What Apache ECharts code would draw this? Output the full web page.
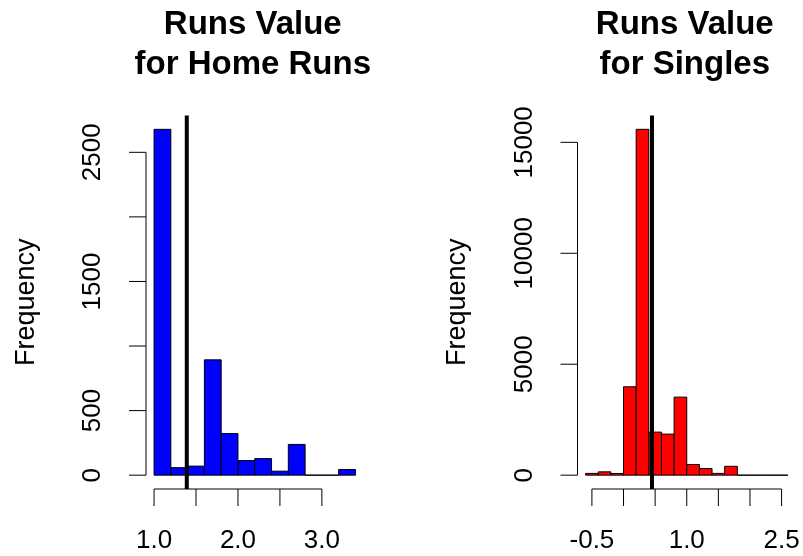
<!DOCTYPE html>
<html>
<head>
<meta charset="utf-8">
<script src="https://cdn.jsdelivr.net/npm/echarts@6/dist/echarts.min.js"></script>
<style>
  html, body { margin: 0; padding: 0; background: #fff; }
  #chart { width: 803px; height: 556px; }
</style>
</head>
<body>
<div id="chart"></div>
<script>
// Histogram bins (breaks) and counts
const hrBreaks = [1.0, 1.2, 1.4, 1.6, 1.8, 2.0, 2.2, 2.4, 2.6, 2.8, 3.0, 3.2, 3.4];
const hrCounts = [2678, 58, 70, 893, 322, 113, 128, 31, 238, 0, 0, 44];
const hrMean = 1.39;

const singleBreaks = [-0.6, -0.4, -0.2, 0.0, 0.2, 0.4, 0.6, 0.8, 1.0, 1.2, 1.4, 1.6, 1.8, 2.0, 2.2, 2.4, 2.6];
const singleCounts = [80, 150, 75, 3983, 15586, 1940, 1850, 3517, 481, 300, 80, 400, 0, 0, 0, 0];
const singleMean = 0.45;

// Axis ticks and labels
const hrXTicks = [1.0, 1.5, 2.0, 2.5, 3.0];
const hrXLabels = [1.0, 2.0, 3.0];
const hrYTicks = [0, 500, 1000, 1500, 2000, 2500];
const hrYLabels = [0, 500, 1500, 2500];

const singleXTicks = [-0.5, 0.0, 0.5, 1.0, 1.5, 2.0, 2.5];
const singleXLabels = [-0.5, 1.0, 2.5];
const singleYTicks = [0, 5000, 10000, 15000];
const singleYLabels = [0, 5000, 10000, 15000];

const titles = ['Runs Value\nfor Home Runs', 'Runs Value\nfor Singles'];
const yName = 'Frequency';

const FONT = "'Liberation Sans', Arial, Helvetica, sans-serif";
const TICK_LEN = 17;

// Plot ranges padded by 4% on each side, like base graphics
function padRange(lo, hi) {
  const d = (hi - lo) * 0.04;
  return [lo - d, hi + d];
}

const panels = [
  { breaks: hrBreaks, counts: hrCounts, mean: hrMean, xTicks: hrXTicks, xLabels: hrXLabels,
    yTicks: hrYTicks, yLabels: hrYLabels, color: '#0000FF',
    grid: { left: 146, top: 115.5, width: 217.5, height: 373.5 } },
  { breaks: singleBreaks, counts: singleCounts, mean: singleMean, xTicks: singleXTicks, xLabels: singleXLabels,
    yTicks: singleYTicks, yLabels: singleYLabels, color: '#FF0000',
    grid: { left: 577.5, top: 115.5, width: 218.5, height: 373.5 } }
];

const option = {
  animation: false,
  backgroundColor: '#ffffff',
  title: [],
  grid: [],
  xAxis: [],
  yAxis: [],
  series: []
};

panels.forEach(function (p, i) {
  const xr = padRange(p.breaks[0], p.breaks[p.breaks.length - 1]);
  const yr = padRange(0, Math.max.apply(null, p.counts));
  p.xr = xr; p.yr = yr;

  option.title.push({
    text: titles[i],
    left: p.grid.left + p.grid.width / 2 - 2,
    top: 5,
    padding: 0,
    textAlign: 'center',
    textStyle: { fontFamily: FONT, fontSize: 33, fontWeight: 'bold', color: '#000', lineHeight: 40 }
  });

  option.grid.push(p.grid);

  option.xAxis.push({
    type: 'value', gridIndex: i, min: xr[0], max: xr[1],
    axisLine: { show: false },
    splitLine: { show: false },
    axisTick: { show: false },
    axisLabel: {
      customValues: p.xLabels, margin: 39,
      fontFamily: FONT, fontSize: 26, color: '#000',
      formatter: function (v) { return v.toFixed(1); }
    }
  });

  option.yAxis.push({
    type: 'value', gridIndex: i, min: yr[0], max: yr[1],
    name: yName, nameLocation: 'middle', nameRotate: 90, nameGap: 106,
    nameTextStyle: { fontFamily: FONT, fontSize: 27, color: '#000' },
    axisLine: { show: false },
    splitLine: { show: false },
    axisTick: { show: false },
    axisLabel: {
      customValues: p.yLabels, rotate: 90, margin: 40,
      fontFamily: FONT, fontSize: 26, color: '#000',
      formatter: function (v) { return String(v); }
    }
  });

  // Histogram bars
  const barData = p.counts.map(function (c, k) { return [p.breaks[k], p.breaks[k + 1], c]; });
  option.series.push({
    type: 'custom', xAxisIndex: i, yAxisIndex: i, silent: true, clip: false,
    encode: { x: [0, 1], y: 2 },
    data: barData,
    renderItem: (function (fill) {
      return function (params, api) {
        const a = api.coord([api.value(0), 0]);
        const b = api.coord([api.value(1), api.value(2)]);
        return {
          type: 'rect',
          shape: { x: a[0], y: b[1], width: b[0] - a[0], height: a[1] - b[1] },
          style: { fill: fill, stroke: '#000', lineWidth: 1 }
        };
      };
    })(p.color)
  });

  // Axis lines (first to last tick) with outward tick marks
  option.series.push({
    type: 'custom', xAxisIndex: i, yAxisIndex: i, silent: true, clip: false,
    data: [[0]],
    renderItem: (function (pp) {
      return function (params, api) {
        const st = { stroke: '#000', lineWidth: 1 };
        const kids = [];
        const xa = api.coord([pp.xTicks[0], pp.yr[0]]);
        const xb = api.coord([pp.xTicks[pp.xTicks.length - 1], pp.yr[0]]);
        kids.push({ type: 'line', shape: { x1: xa[0], y1: xa[1], x2: xb[0], y2: xb[1] }, style: st });
        pp.xTicks.forEach(function (t) {
          const c = api.coord([t, pp.yr[0]]);
          kids.push({ type: 'line', shape: { x1: c[0], y1: c[1], x2: c[0], y2: c[1] + TICK_LEN }, style: st });
        });
        const ya = api.coord([pp.xr[0], pp.yTicks[0]]);
        const yb = api.coord([pp.xr[0], pp.yTicks[pp.yTicks.length - 1]]);
        kids.push({ type: 'line', shape: { x1: ya[0], y1: ya[1], x2: yb[0], y2: yb[1] }, style: st });
        pp.yTicks.forEach(function (t) {
          const c = api.coord([pp.xr[0], t]);
          kids.push({ type: 'line', shape: { x1: c[0], y1: c[1], x2: c[0] - TICK_LEN, y2: c[1] }, style: st });
        });
        return { type: 'group', children: kids };
      };
    })(p)
  });

  // Mean marker
  option.series.push({
    type: 'line', xAxisIndex: i, yAxisIndex: i, silent: true, clip: false,
    symbol: 'none',
    data: [[p.mean, yr[0]], [p.mean, yr[1]]],
    lineStyle: { color: '#000', width: 4 }
  });
});

const chart = echarts.init(document.getElementById('chart'), null, { renderer: 'canvas' });
chart.setOption(option);
</script>
</body>
</html>
